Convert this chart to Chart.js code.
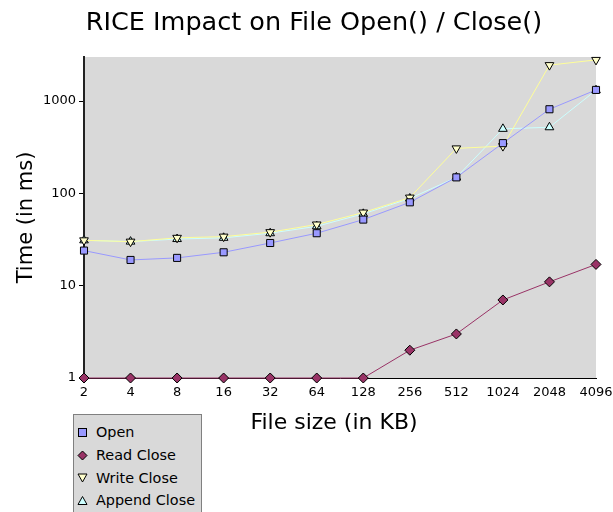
<!DOCTYPE html>
<html>
<head>
<meta charset="utf-8">
<script src="https://cdn.jsdelivr.net/npm/chart.js@4.4.1/dist/chart.umd.min.js"></script>
<style>
  html, body { margin: 0; padding: 0; overflow: hidden; background: #fff; }
  #wrap { position: relative; width: 613px; height: 512px; }
  #legend { position: absolute; left: 73px; top: 414px; width: 129px; height: 110px;
    background: #d9d9d9; border: 1px solid #808080; font-family: "DejaVu Sans", sans-serif;
    font-size: 14.4px; color: #000; box-sizing: border-box; padding-top: 6px; }
  #legend .item { height: 22.7px; line-height: 22px; display: flex; align-items: center; }
  #legend svg { margin-left: 2px; margin-right: 7px; }
</style>
</head>
<body>
<div id="wrap">
  <canvas id="c" width="613" height="512"></canvas>
  <div id="legend"></div>
</div>
<script>
const chartTitle = 'RICE Impact on File Open() / Close()';
const xAxisTitle = 'File size (in KB)';
const yAxisTitle = 'Time (in ms)';
const categories = ['2','4','8','16','32','64','128','256','512','1024','2048','4096'];
const openTimes = [24, 19, 20, 23, 29, 37, 52, 80, 149, 350, 815, 1320];
const readClose = [1, 1, 1, 1, 1, 1, 1, 2, 3, 7, 11, 17];
const writeClose = [31, 30, 33, 34, 38, 46, 62, 90, 307, 325, 2450, 2790];
const appendClose = [31, 30, 32, 33, 37, 44, 60, 88, 149, 500, 520, 1310];
const yTickValues = [1, 10, 100, 1000];

const series = [
  { label: 'Open', data: openTimes, line: '#9999ff', fill: '#9999ff', style: 'rect', rot: 0 },
  { label: 'Read Close', data: readClose, line: '#993366', fill: '#993366', style: 'rectRot', rot: 0 },
  { label: 'Write Close', data: writeClose, line: '#ffff99', fill: '#ffffcc', style: 'triangle', rot: 180 },
  { label: 'Append Close', data: appendClose, line: '#ccffff', fill: '#ccffff', style: 'triangle', rot: 0 }
];

const FONT = 'DejaVu Sans';

const bgPlugin = {
  id: 'plotBg',
  beforeDraw(chart) {
    const a = chart.chartArea, ctx = chart.ctx;
    ctx.save();
    ctx.fillStyle = '#d9d9d9';
    ctx.fillRect(a.left, a.top, a.right - a.left, a.bottom - a.top);
    ctx.restore();
  }
};

const titlePlugin = {
  id: 'customTitle',
  afterDraw(chart) {
    const ctx = chart.ctx;
    ctx.save();
    ctx.fillStyle = '#000';
    ctx.textAlign = 'center';
    ctx.textBaseline = 'middle';
    ctx.font = '25.5px "' + FONT + '"';
    ctx.fillText(chartTitle, 314, 23);
    ctx.font = '22px "' + FONT + '"';
    ctx.fillText(xAxisTitle, 334, 423);
    ctx.restore();
  }
};

const chart = new Chart(document.getElementById('c'), {
  type: 'line',
  data: {
    labels: categories,
    datasets: series.map(s => ({
      label: s.label,
      data: s.data,
      borderColor: s.line,
      borderWidth: 1,
      backgroundColor: s.fill,
      pointStyle: s.style,
      pointRotation: s.rot,
      pointRadius: 5,
      pointBackgroundColor: s.fill,
      pointBorderColor: '#000',
      pointBorderWidth: 1,
      tension: 0,
      fill: false,
      clip: false
    }))
  },
  options: {
    responsive: false,
    animation: false,
    layout: { padding: { left: 0, right: 17, top: 57, bottom: 72 } },
    plugins: {
      legend: { display: false },
      tooltip: { enabled: false },
      title: { display: false }
    },
    scales: {
      x: {
        type: 'category',
        offset: false,
        grid: { display: false, drawTicks: false },
        border: { display: true, color: '#000', width: 1 },
        ticks: { color: '#000', font: { family: FONT, size: 13 }, padding: 7, maxRotation: 0, autoSkip: false },
        title: { display: false },
        afterFit(scale) { scale.height = 62; scale.paddingLeft = 0; scale.paddingRight = 0; }
      },
      y: {
        type: 'logarithmic',
        min: 1,
        max: 3000,
        grid: { drawOnChartArea: false, drawTicks: true, tickLength: 5, color: '#000' },
        border: { display: true, color: '#222', width: 2 },
        afterBuildTicks(scale) { scale.ticks = yTickValues.map(v => ({ value: v })); },
        ticks: { color: '#000', font: { family: FONT, size: 13 }, padding: 3,
          callback: (v) => String(v) },
        title: { display: true, text: yAxisTitle, color: '#000', font: { family: FONT, size: 21 }, padding: { top: 14, bottom: 0 } },
        afterFit(scale) { scale.width = 84; scale.paddingTop = 0; scale.paddingBottom = 0; }
      }
    }
  },
  plugins: [bgPlugin, titlePlugin]
});

function markerSvg(s) {
  const stroke = '#000';
  let shape = '';
  if (s.style === 'rect') shape = `<rect x="2.5" y="2.5" width="8" height="8" fill="${s.fill}" stroke="${stroke}"/>`;
  else if (s.style === 'rectRot') shape = `<polygon points="6.5,2 11,6.5 6.5,11 2,6.5" fill="${s.fill}" stroke="${stroke}"/>`;
  else if (s.rot === 180) shape = `<polygon points="2,3 11,3 6.5,11" fill="${s.fill}" stroke="${stroke}"/>`;
  else shape = `<polygon points="2,10.5 11,10.5 6.5,2.5" fill="${s.fill}" stroke="${stroke}"/>`;
  return `<svg width="13" height="13" viewBox="0 0 13 13">${shape}</svg>`;
}
const legend = document.getElementById('legend');
chart.data.datasets.forEach((ds, i) => {
  const d = document.createElement('div');
  d.className = 'item';
  d.innerHTML = markerSvg(series[i]) + '<span>' + ds.label + '</span>';
  legend.appendChild(d);
});
</script>
</body>
</html>
